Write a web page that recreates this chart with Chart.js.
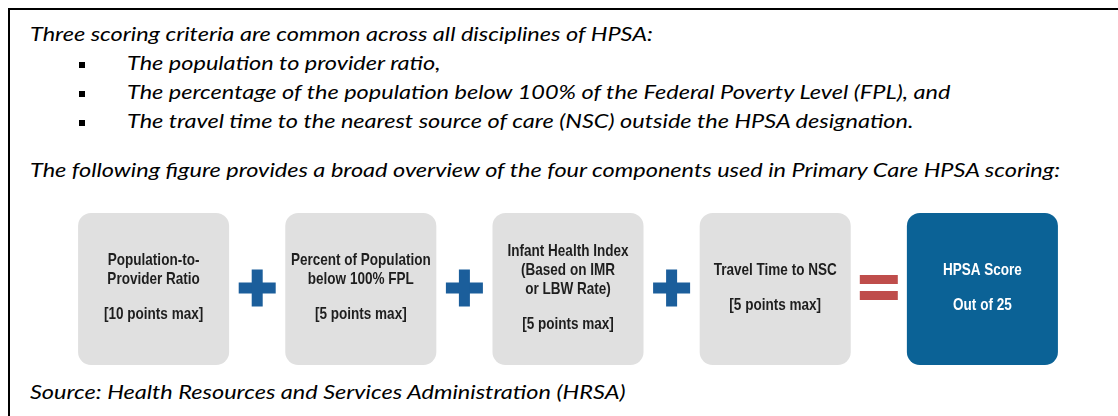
<!DOCTYPE html>
<html>
<head>
<meta charset="utf-8">
<script src="https://cdn.jsdelivr.net/npm/chart.js@4/dist/chart.umd.min.js"></script>
<style>
  html, body { margin: 0; padding: 0; background: #fff; }
  body { width: 1118px; height: 416px; position: relative; overflow: hidden; }
  #frame { position: absolute; left: 8px; top: 8px; width: 1200px; height: 500px; border: 2px solid #000; box-sizing: border-box; }
  .ln { position: absolute; top: 0; white-space: nowrap; font-family: Lato, "Open Sans", sans-serif; font-style: italic; font-size: 18.5px; color: #000; transform-origin: 0 0; line-height: 1.2; }
  .bl { display: inline-block; width: 0; height: 0; vertical-align: baseline; }
  .bullet { position: absolute; width: 6px; height: 6px; background: #000; left: 79px; }
  #chartWrap { position: absolute; left: 0; top: 213px; width: 1118px; height: 152px; }
</style>
</head>
<body>
<div id="frame"></div>
<div id="texts"></div>
<div id="chartWrap"><canvas id="c" width="1118" height="152"></canvas></div>
<script>
// ---- text content ----
const introLine = "Three scoring criteria are common across all disciplines of HPSA:";
const bulletLines = [
  "The population to provider ratio,",
  "The percentage of the population below 100% of the Federal Poverty Level (FPL), and",
  "The travel time to the nearest source of care (NSC) outside the HPSA designation."
];
const figureLine = "The following figure provides a broad overview of the four components used in Primary Care HPSA scoring:";
const sourceLine = "Source: Health Resources and Services Administration (HRSA)";

// ---- diagram data ----
const components = [
  "Population-to-Provider Ratio",
  "Percent of Population below 100% FPL",
  "Infant Health Index (Based on IMR or LBW Rate)",
  "Travel Time to NSC",
  "HPSA Score"
];
const titleLines = [
  ["Population-to-", "Provider Ratio"],
  ["Percent of Population", "below 100% FPL"],
  ["Infant Health Index", "(Based on IMR", "or LBW Rate)"],
  ["Travel Time to NSC"],
  ["HPSA Score"]
];
const pointsMax = [10, 5, 5, 5, 25];
const pointsText = ["[10 points max]", "[5 points max]", "[5 points max]", "[5 points max]", "Out of 25"];
const operators = ["+", "+", "+", "="];
const boxUnits = [1, 1, 1, 1, 1];

// ---- place HTML text lines ----
const textsEl = document.getElementById('texts');
const lineSpecs = [
  { t: introLine, x: 30, base: 41 },
  { t: bulletLines[0], x: 127, base: 70, bullet: true },
  { t: bulletLines[1], x: 127, base: 99, bullet: true },
  { t: bulletLines[2], x: 127, base: 128, bullet: true },
  { t: figureLine, x: 30, base: 177 },
  { t: sourceLine, x: 30, base: 399 }
];
const els = lineSpecs.map(s => {
  const d = document.createElement('div');
  d.className = 'ln';
  d.style.left = s.x + 'px';
  d.textContent = s.t;
  const b = document.createElement('span');
  b.className = 'bl';
  d.appendChild(b);
  textsEl.appendChild(d);
  if (s.bullet) {
    const bu = document.createElement('div');
    bu.className = 'bullet';
    bu.style.top = (s.base - 8) + 'px';
    textsEl.appendChild(bu);
  }
  return { d, b, s };
});
// horizontal scale so the long figure line spans its measured width
const figW = els[4].d.getBoundingClientRect().width;
const sx = 1030 / figW;
els.forEach(({ d, b, s }) => {
  const top0 = d.getBoundingClientRect().top;
  const bl = b.getBoundingClientRect().top;
  d.style.top = (s.base - (bl - top0)) + 'px';
  d.style.transform = 'scaleX(' + sx + ')';
});

// ---- diagram plugin: labels inside boxes + operators ----
const diagramPlugin = {
  id: 'diagram',
  afterDatasetsDraw(chart) {
    const ctx = chart.ctx;
    const bars = chart.getDatasetMeta(0).data;
    ctx.save();
    // operators
    for (let i = 0; i < operators.length; i++) {
      const a = bars[i], b = bars[i + 1];
      const cx = ((a.x + a.width / 2) + (b.x - b.width / 2)) / 2;
      const cy = (a.y + a.base) / 2 - 1;
      if (operators[i] === '+') {
        ctx.fillStyle = '#1b5e9b';
        ctx.fillRect(cx - 18.5, cy - 5.5, 37, 11);
        ctx.fillRect(cx - 5.5, cy - 18.5, 11, 37);
      } else {
        ctx.fillStyle = '#bf4d4b';
        ctx.fillRect(cx - 19, cy - 13, 38, 9);
        ctx.fillRect(cx - 19, cy + 3, 38, 9);
      }
    }
    // labels (condensed bold, like Arial Narrow)
    ctx.textAlign = 'center';
    ctx.textBaseline = 'alphabetic';
    ctx.font = "bold 16.5px 'Liberation Sans', Arial, sans-serif";
    const drawNarrow = (t, x, y) => {
      ctx.save();
      ctx.translate(x, y);
      ctx.scale(0.82, 1);
      ctx.fillText(t, 0, 0);
      ctx.restore();
    };
    bars.forEach((el, i) => {
      const lines = titleLines[i];
      const lh = 19, gap = 35;
      const span = (lines.length - 1) * lh + gap;
      const mid = (el.y + el.base) / 2 - 3;
      const y = mid - span / 2;
      ctx.fillStyle = i === bars.length - 1 ? '#ffffff' : '#1e1e1e';
      lines.forEach((t, k) => drawNarrow(t, el.x, y + k * lh + 6));
      drawNarrow(pointsText[i], el.x, y + (lines.length - 1) * lh + gap + 6);
    });
    ctx.restore();
  }
};

new Chart(document.getElementById('c'), {
  type: 'bar',
  data: {
    labels: components,
    datasets: [{
      data: boxUnits,
      backgroundColor: components.map((c, i) => i === components.length - 1 ? '#0b6296' : '#e0e0e0'),
      borderRadius: 13,
      borderSkipped: false,
      barPercentage: 0.729,
      categoryPercentage: 1
    }]
  },
  options: {
    responsive: false,
    devicePixelRatio: 1,
    animation: false,
    layout: { padding: { left: 50, right: 32, top: 0, bottom: 0 } },
    scales: {
      x: { display: false },
      y: { display: false, min: 0, max: 1 }
    },
    plugins: { legend: { display: false }, tooltip: { enabled: false } }
  },
  plugins: [diagramPlugin]
});
</script>
</body>
</html>
